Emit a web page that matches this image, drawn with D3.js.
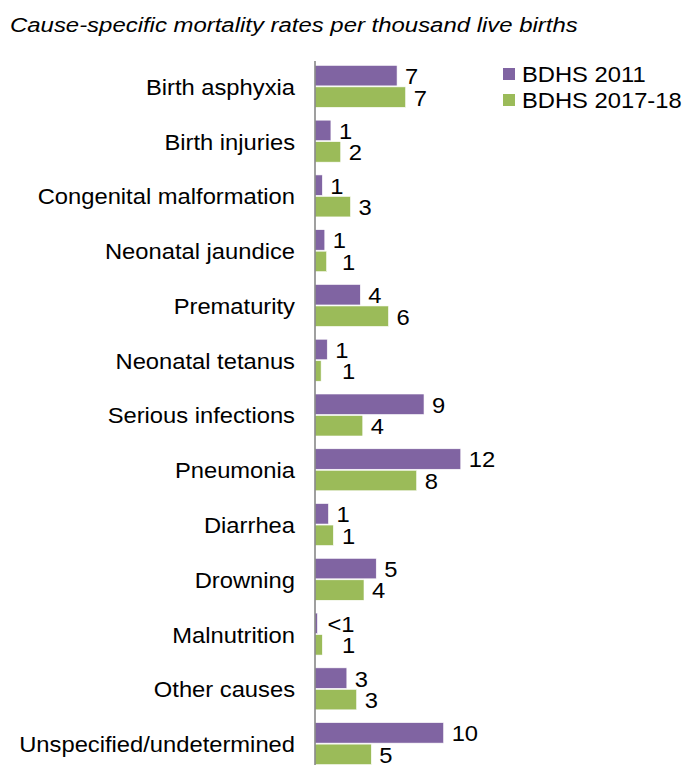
<!DOCTYPE html>
<html><head><meta charset="utf-8">
<script src="https://cdn.jsdelivr.net/npm/d3@7"></script>
<style>body{margin:0;background:#fff}svg{display:block}text{font-family:"Liberation Sans",Arial,sans-serif;fill:#000}</style>
</head><body>
<script>
const categories = ["Birth asphyxia","Birth injuries","Congenital malformation","Neonatal jaundice","Prematurity","Neonatal tetanus","Serious infections","Pneumonia","Diarrhea","Drowning","Malnutrition","Other causes","Unspecified/undetermined"];
const series = ["BDHS 2011","BDHS 2017-18"];
const values2011 = [6.7,1.3,0.6,0.8,3.7,1.0,8.9,11.9,1.1,5.0,0.2,2.6,10.5];
const values2017 = [7.4,2.1,2.9,0.95,6.0,0.5,3.9,8.3,1.5,4.0,0.6,3.4,4.6];
const labels2011 = ["7","1","1","1","4","1","9","12","1","5","<1","3","10"];
const labels2017 = ["7","2","3","1","6","1","4","8","1","4","1","3","5"];
const colors = ["#8064A2","#9BBB59"];
const title = "Cause-specific mortality rates per thousand live births";

const W=686,H=765, SX=1.08;
const svg=d3.select("body").append("svg").attr("width",W).attr("height",H);
const x0=315;
const x=d3.scaleLinear().domain([0,12]).range([x0,x0+147]);
const y=d3.scaleBand().domain(categories).range([59.5,771.5]).paddingInner(0.215).paddingOuter(0.1075);
const ys=d3.scaleBand().domain(series).range([0,y.bandwidth()]);

svg.append("text").attr("transform","translate(10,32) scale(1.14,1)").attr("font-size",21).attr("font-style","italic").text(title);

const data=categories.map((c,i)=>({c,v:[values2011[i],values2017[i]],l:[labels2011[i],labels2017[i]]}));
const g=svg.append("g");
series.forEach((s,si)=>{
  g.selectAll(".b"+si).data(data).join("rect")
    .attr("x",x(0)).attr("y",d=>y(d.c)+ys(s))
    .attr("width",d=>x(d.v[si])-x(0)).attr("height",ys.bandwidth()-1)
    .attr("fill",colors[si]).attr("stroke","#fff").attr("stroke-width",0.6);
  g.selectAll(".t"+si).data(data).join("text")
    .attr("transform",d=>{
      let lx = d.l[si]==="<1" ? x(d.v[si])+10 : x(d.v[si])+8;
      if(si===1) lx=Math.max(lx,x0+27);
      return `translate(${lx},${y(d.c)+ys(s)+ys.bandwidth()/2}) scale(${SX},1)`;})
    .attr("dy","0.36em").attr("font-size",22).text(d=>d.l[si]);
});
// category labels
svg.append("g").selectAll("text").data(categories).join("text")
  .attr("transform",c=>`translate(${x0-20},${y(c)+y.bandwidth()/2}) scale(${SX},1)`)
  .attr("text-anchor","end").attr("dy","0.36em").attr("font-size",22).text(c=>c);
svg.append("line").attr("x1",x0).attr("x2",x0).attr("y1",61).attr("y2",H).attr("stroke","#7f7f7f").attr("stroke-width",1.5);

// legend
const lg=svg.append("g").attr("transform","translate(503,67)");
series.forEach((s,i)=>{
  lg.append("rect").attr("x",0).attr("y",i*26+1).attr("width",12).attr("height",12).attr("fill",colors[i]);
  lg.append("text").attr("transform",`translate(19,${i*26+7}) scale(${SX},1)`).attr("dy","0.36em").attr("font-size",22).text(s);
});
</script>
</body></html>
